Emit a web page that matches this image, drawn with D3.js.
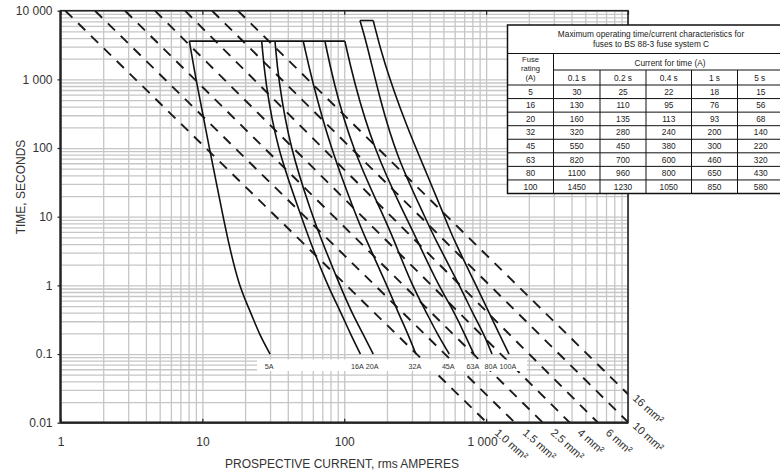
<!DOCTYPE html>
<html><head><meta charset="utf-8">
<script src="https://cdn.jsdelivr.net/npm/d3@7"></script>
<style>
html,body{margin:0;padding:0;background:#fff;}
svg{display:block;font-family:"Liberation Sans",Arial,Helvetica,sans-serif;}
</style></head><body>
<svg id="chart" width="780" height="473"></svg>
<script>
// ---------------- data ----------------
const xTickValues = [1, 10, 100, 1000];
const xTickLabels = ["1", "10", "100", "1 000"];
const yTickValues = [0.01, 0.1, 1, 10, 100, 1000, 10000];
const yTickLabels = ["0.01", "0.1", "1", "10", "100", "1 000", "10 000"];

const fuseNames = ["5A", "16A", "20A", "32A", "45A", "63A", "80A", "100A"];
const tableTimeLabels = ["0.1 s", "0.2 s", "0.4 s", "1 s", "5 s"];
const tableTimes = [0.1, 0.2, 0.4, 1, 5];
const tableRatings = ["5", "16", "20", "32", "45", "63", "80", "100"];
const tableCurrents = [
  [30, 25, 22, 18, 15],
  [130, 110, 95, 76, 56],
  [160, 135, 113, 93, 68],
  [320, 280, 240, 200, 140],
  [550, 450, 380, 300, 220],
  [820, 700, 600, 460, 320],
  [1100, 960, 800, 650, 430],
  [1450, 1230, 1050, 850, 580]
];
// long-time part of each fuse curve: [current A, time s]
const fuseUpper = [
  [[8.1, 3600], [9.0, 1000], [11.2, 100], [14, 10]],
  [[26.2, 3600], [27.6, 1000], [33.4, 100], [50, 10]],
  [[32.5, 3600], [34.3, 1000], [41.4, 100], [60, 10]],
  [[51.4, 3600], [59, 1000], [80, 100], [122, 10]],
  [[73.1, 3600], [83, 1000], [113, 100], [190, 10]],
  [[101, 3600], [116, 1000], [160, 100], [270, 10]],
  [[129, 7200], [144, 3350], [179, 500], [234, 75], [370, 10]],
  [[160, 7200], [188, 1900], [275, 205], [381, 43], [510, 10]]
];
// cable adiabatic lines: start current at 10 000 s, end point
const cableNames = ["1.0 mm²", "1.5 mm²", "2.5 mm²", "4 mm²", "6 mm²", "10 mm²", "16 mm²"];
const cableStartCurrent = [1.08, 1.75, 2.85, 4.63, 7.54, 11.7, 17.8];
const cableEndCurrent = [1013, 1596, 2513, 3890, 6140, 10000, 10000];
const cableEndTime = [0.01, 0.01, 0.01, 0.01, 0.01, 0.0102, 0.026];

const tableTitle = ["Maximum operating time/current characteristics for", "fuses to BS 88-3 fuse system C"];
const xTitle = "PROSPECTIVE CURRENT, rms AMPERES";
const yTitle = "TIME, SECONDS";

// ---------------- layout ----------------
const svg = d3.select("#chart");
const L = 60.5, R = 628, T = 10.7, B = 422.7;
const x = d3.scaleLog().domain([1, 10000]).range([L, R]);
const y = d3.scaleLog().domain([0.01, 10000]).range([B, T]);

const xGrid = [], yGrid = [];
for (let e = 0; e < 4; e++) for (let m = 1; m < 10; m++) xGrid.push(+(m + "e" + e));
xGrid.push(10000);
for (let e = -2; e < 4; e++) for (let m = 1; m < 10; m++) yGrid.push(+(m + "e" + e));
yGrid.push(10000);

svg.append("defs").append("clipPath").attr("id", "plotclip")
  .append("rect").attr("x", L).attr("y", T).attr("width", R - L).attr("height", B - T);

// grid
svg.append("g").attr("transform", `translate(0,${B})`)
  .call(d3.axisBottom(x).tickValues(xGrid).tickSize(-(B - T)).tickFormat(""))
  .call(g => g.select(".domain").remove())
  .selectAll("line").attr("stroke", "#c6c6c6").attr("stroke-width", 1.3);
svg.append("g").attr("transform", `translate(${L},0)`)
  .call(d3.axisLeft(y).tickValues(yGrid).tickSize(-(R - L)).tickFormat(""))
  .call(g => g.select(".domain").remove())
  .selectAll("line").attr("stroke", "#c6c6c6").attr("stroke-width", 1.3);

const plot = svg.append("g").attr("clip-path", "url(#plotclip)");

// cable lines (dashed)
const line = d3.line().x(d => x(d[0])).y(d => y(d[1]));
cableNames.forEach((n, i) => {
  plot.append("path")
    .attr("d", line([[cableStartCurrent[i], 10000], [cableEndCurrent[i], cableEndTime[i]]]))
    .attr("fill", "none").attr("stroke", "#1a1a1a").attr("stroke-width", 1.9)
    .attr("stroke-dasharray", "10,8");
});

// white label band
svg.append("rect").attr("x", 257).attr("y", 359.5).attr("width", 270).attr("height", 11.5).attr("fill", "#fff");

// fuse curves
const curveLine = d3.line().x(d => x(d[0])).y(d => y(d[1])).curve(d3.curveBasis);
fuseNames.forEach((n, i) => {
  const lower = tableTimes.map((t, j) => [tableCurrents[i][j], t]).reverse();
  const pts = fuseUpper[i].concat(lower);
  plot.append("path").attr("d", curveLine(pts))
    .attr("fill", "none").attr("stroke", "#111").attr("stroke-width", 1.6);
});
// horizontal caps joining curve tops
const tops = fuseUpper.map(u => u[0]);
d3.group(tops, d => d[1]).forEach(grp => {
  const ext = d3.extent(grp, d => d[0]);
  plot.append("path").attr("d", line([[ext[0], grp[0][1]], [ext[1], grp[0][1]]]))
    .attr("fill", "none").attr("stroke", "#111").attr("stroke-width", 1.6);
});

// fuse labels
fuseNames.forEach((n, i) => {
  svg.append("text").attr("x", x(tableCurrents[i][0]) - (i === 1 ? 3 : 1)).attr("y", 368.5)
    .attr("text-anchor", "middle").attr("font-size", 7.2).attr("fill", "#333").text(n);
});

// frame
svg.append("rect").attr("x", L).attr("y", T).attr("width", R - L).attr("height", B - T)
  .attr("fill", "none").attr("stroke", "#222").attr("stroke-width", 1.6);
svg.append("line").attr("x1", L).attr("x2", L).attr("y1", T).attr("y2", B).attr("stroke", "#222").attr("stroke-width", 2.2);
svg.append("line").attr("x1", L).attr("x2", R).attr("y1", B).attr("y2", B).attr("stroke", "#222").attr("stroke-width", 2.2);

// axes with labels
const xAxis = svg.append("g").attr("transform", `translate(0,${B})`)
  .call(d3.axisBottom(x).tickValues(xTickValues).tickSize(-4).tickPadding(15)
    .tickFormat((d, i) => xTickLabels[i]));
xAxis.select(".domain").remove();
xAxis.selectAll("line").attr("stroke", "#222").attr("stroke-width", 1.2);
xAxis.selectAll("text").attr("font-size", 12).attr("fill", "#333")
  .attr("font-family", "Liberation Sans, Arial, sans-serif")
  .attr("dx", (d, i) => i === 3 ? -4 : 0);
const xTop = svg.append("g").attr("transform", `translate(0,${T})`)
  .call(d3.axisTop(x).tickValues(xTickValues.concat([10000])).tickSize(-4).tickFormat(""));
xTop.select(".domain").remove();
xTop.selectAll("line").attr("stroke", "#222").attr("stroke-width", 1.2);

const yAxis = svg.append("g").attr("transform", `translate(${L},0)`)
  .call(d3.axisLeft(y).tickValues(yTickValues).tickSize(3).tickPadding(5)
    .tickFormat((d, i) => yTickLabels[i]));
yAxis.select(".domain").remove();
yAxis.selectAll("line").attr("stroke", "#222").attr("stroke-width", 1.2);
yAxis.selectAll("text").attr("font-size", 12).attr("fill", "#333")
  .attr("font-family", "Liberation Sans, Arial, sans-serif");

// titles
svg.append("text").attr("x", 342).attr("y", 468).attr("text-anchor", "middle")
  .attr("font-size", 12).attr("fill", "#333").text(xTitle);
svg.append("text").attr("transform", "translate(25,187) rotate(-90)").attr("text-anchor", "middle")
  .attr("font-size", 12).attr("fill", "#333").text(yTitle);

// cable labels
cableNames.forEach((n, i) => {
  const ex = x(cableEndCurrent[i]), ey = y(cableEndTime[i]);
  const onRight = cableEndCurrent[i] >= 10000;
  const px = ex + (onRight ? 4 : 7), py = ey + (onRight ? 5 : 11);
  svg.append("text").attr("transform", `translate(${px},${py}) rotate(42)`)
    .attr("font-size", 11).attr("fill", "#333").text(n);
});

// ---------------- table ----------------
const tx = [507.5, 553.5, 600, 646, 691.5, 737.5, 784];
const tyTop = 25, tyTitle = 53.5, tySub = 70, tyData = 85, tyBot = 193.5;
const rowH = (tyBot - tyData) / tableRatings.length;
const tb = svg.append("g");
tb.append("rect").attr("x", tx[0]).attr("y", tyTop).attr("width", tx[6] - tx[0]).attr("height", tyBot - tyTop)
  .attr("fill", "#fff").attr("stroke", "#111").attr("stroke-width", 1.5);
const hl = (x1, x2, yy) => tb.append("line").attr("x1", x1).attr("x2", x2).attr("y1", yy).attr("y2", yy)
  .attr("stroke", "#111").attr("stroke-width", 1);
const vl = (xx, y1, y2) => tb.append("line").attr("x1", xx).attr("x2", xx).attr("y1", y1).attr("y2", y2)
  .attr("stroke", "#111").attr("stroke-width", 1);
hl(tx[0], tx[6], tyTitle);
hl(tx[1], tx[6], tySub);
for (let r = 0; r < tableRatings.length; r++) hl(tx[0], tx[6], tyData + r * rowH);
vl(tx[1], tyTitle, tyBot);
for (let c = 2; c < 6; c++) vl(tx[c], tySub, tyBot);
const tt = (xx, yy, s, fs) => tb.append("text").attr("x", xx).attr("y", yy).attr("text-anchor", "middle")
  .attr("font-size", fs || 8.3).attr("fill", "#222").text(s);
tt(651, 36.5, tableTitle[0]);
tt(651, 46.5, tableTitle[1]);
tt((tx[0] + tx[1]) / 2, 61.5, "Fuse", 7.6);
tt((tx[0] + tx[1]) / 2, 70.5, "rating", 7.6);
tt((tx[0] + tx[1]) / 2, 79.5, "(A)", 7.6);
tt(670, 65.5, "Current for time (A)");
tableTimeLabels.forEach((s, c) => tt((tx[c + 1] + tx[c + 2]) / 2 + (c === 4 ? -1 : 0), 80.5, s));
tableRatings.forEach((s, r) => {
  const yy = tyData + r * rowH + rowH / 2 + 3;
  tt((tx[0] + tx[1]) / 2, yy, s);
  tableCurrents[r].forEach((v, c) => tt((tx[c + 1] + tx[c + 2]) / 2, yy, String(v)));
});
</script>
</body></html>
